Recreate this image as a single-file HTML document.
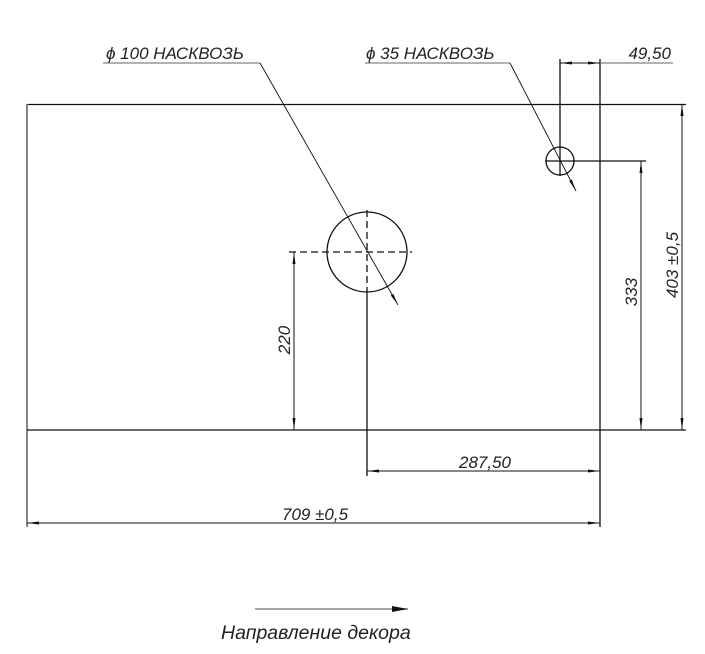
<!DOCTYPE html>
<html><head><meta charset="utf-8"><style>
html,body{margin:0;padding:0;background:#fff;width:705px;height:654px;overflow:hidden}
svg{display:block}
text{font-family:"Liberation Sans",sans-serif;font-style:italic;fill:#222}
</style></head><body>
<svg width="705" height="654" viewBox="0 0 705 654" xmlns="http://www.w3.org/2000/svg">
<defs>
<marker id="a" viewBox="0 0 12 6" refX="12" refY="3" markerWidth="12" markerHeight="6" orient="auto-start-reverse" markerUnits="userSpaceOnUse"><path d="M0,1.5 L12,3 L0,4.5 Z" fill="#111"/></marker>
<marker id="b" viewBox="0 0 16 8" refX="16" refY="4" markerWidth="16" markerHeight="8" orient="auto" markerUnits="userSpaceOnUse"><path d="M0,1 L16,4 L0,7 Z" fill="#111"/></marker>
</defs>
<g stroke="#111" stroke-width="1.3" fill="none">
<line x1="27" y1="104.5" x2="686" y2="104.5"/>
<line x1="27" y1="104" x2="27" y2="527" stroke="#777" stroke-width="1.8"/>
<line x1="27" y1="430" x2="686" y2="430"/>
<line x1="600" y1="59" x2="600" y2="527"/>
<circle cx="367" cy="252" r="40"/>
<line x1="367" y1="210" x2="367" y2="294" stroke-dasharray="7,4"/>
<line x1="367" y1="294" x2="367" y2="476"/>
<line x1="289" y1="252" x2="412" y2="252" stroke-dasharray="7,4"/>
<circle cx="560" cy="161" r="14"/>
<line x1="560" y1="59" x2="560" y2="176"/>
<line x1="545" y1="161" x2="646" y2="161"/>
<line x1="294" y1="252" x2="294" y2="430" stroke-width="1" marker-start="url(#a)" marker-end="url(#a)"/>
<line x1="641" y1="161" x2="641" y2="430" stroke-width="1" marker-start="url(#a)" marker-end="url(#a)"/>
<line x1="682" y1="104" x2="682" y2="430" stroke-width="1" marker-start="url(#a)" marker-end="url(#a)"/>
<line x1="367" y1="471" x2="600" y2="471" stroke-width="1" marker-start="url(#a)" marker-end="url(#a)"/>
<line x1="27" y1="523" x2="600" y2="523" stroke-width="1" marker-start="url(#a)" marker-end="url(#a)"/>
<line x1="560" y1="63" x2="600" y2="63" stroke-width="1" marker-start="url(#a)" marker-end="url(#a)"/>
<line x1="600" y1="63" x2="673" y2="63" stroke-width="1" stroke="#666"/>
<line x1="103" y1="63" x2="260" y2="63" stroke-width="1" stroke="#666"/>
<line x1="260" y1="63" x2="398" y2="305" stroke-width="0.9" marker-end="url(#a)"/>
<line x1="365" y1="63" x2="510" y2="63" stroke-width="1" stroke="#666"/>
<line x1="510" y1="63" x2="576" y2="191" stroke-width="0.9" marker-end="url(#a)"/>
<line x1="255" y1="609" x2="408" y2="609" stroke="#888" stroke-width="1.5" marker-end="url(#b)"/>
</g>
<text x="106" y="59" font-size="17">ϕ 100 НАСКВОЗЬ</text>
<text x="366" y="59" font-size="17">ϕ 35 НАСКВОЗЬ</text>
<text x="671" y="59" font-size="17" text-anchor="end">49,50</text>
<text x="459" y="468" font-size="17">287,50</text>
<text x="282" y="520" font-size="17">709 ±0,5</text>
<text transform="translate(290,340) rotate(-90)" font-size="17" text-anchor="middle">220</text>
<text transform="translate(637,292) rotate(-90)" font-size="17" text-anchor="middle">333</text>
<text transform="translate(678,265) rotate(-90)" font-size="17" text-anchor="middle">403 ±0,5</text>
<text x="221" y="639" font-size="19.5">Направление декора</text>
</svg>
</body></html>
